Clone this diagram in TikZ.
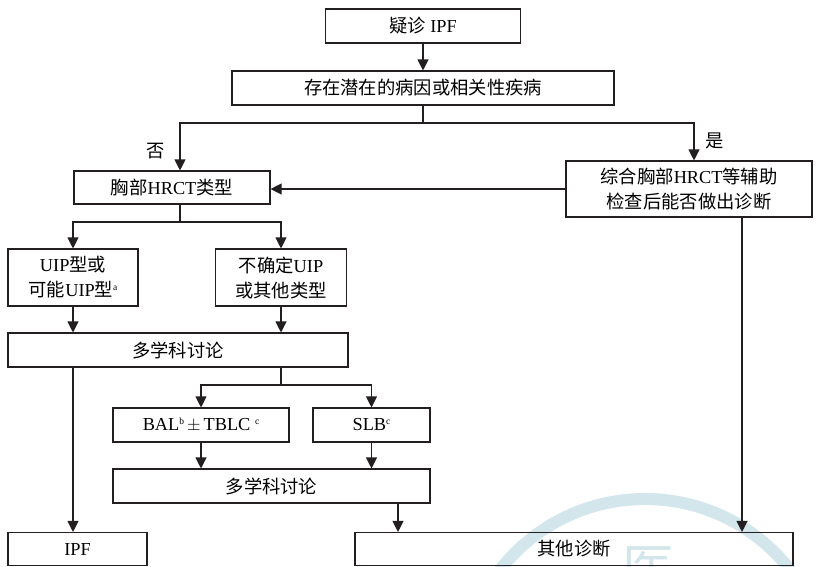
\documentclass[tikz,border=0pt]{standalone}
\usepackage{fontspec}
\setmainfont{Liberation Serif}
\newfontfamily\cjk{Noto Sans CJK SC}
\usetikzlibrary{arrows.meta}
\definecolor{ink}{HTML}{231F20}
\definecolor{wmark}{HTML}{D3E6EC}
\newcommand{\supmark}[1]{\raisebox{6pt}{\fontsize{9.5}{9.5}\selectfont #1}}
\tikzset{
  box/.style={draw=ink, line width=1.1pt, rectangle, align=center, inner sep=0pt,
              font=\fontsize{18.3}{25}\selectfont, text=black},
  arr/.style={draw=ink, line width=1.1pt, -{Triangle[length=11pt,width=11pt]}},
  ln/.style={draw=ink, line width=1.1pt},
  lbl/.style={font=\fontsize{18.3}{20}\selectfont\cjk, text=black, inner sep=0pt}
}
\begin{document}
\begin{tikzpicture}[x=1pt,y=-1pt]
\useasboundingbox (0,0) rectangle (818,566);
% watermark
\begin{scope}
  \clip (0,0) rectangle (818,566);
  \draw[wmark, line width=12pt] (645,683) circle (184);
  \node[text=wmark, font=\fontsize{52}{52}\selectfont\cjk, inner sep=0pt] (wm) at (648,568) {医};
\end{scope}
% boxes
\node[box, minimum width=195, minimum height=34] (A) at (423,26) {{\cjk 疑诊} IPF};
\node[box, minimum width=382, minimum height=34] (B) at (423,88) {\cjk 存在潜在的病因或相关性疾病};
\node[box, minimum width=196, minimum height=33] (C) at (172,187.5) {{\cjk 胸部}HRCT{\cjk 类型}};
\node[box, minimum width=246, minimum height=56] (D) at (689,189) {{\cjk 综合胸部}HRCT{\cjk 等辅助}\\{\cjk 检查后能否做出诊断}};
\node[box, minimum width=130, minimum height=57] (E) at (73,277.5) {UIP{\cjk 型或}\\{\cjk 可能}UIP{\cjk 型}\supmark{a}};
\node[box, minimum width=131, minimum height=57] (F) at (281,277.5) {{\cjk 不确定}UIP\\{\cjk 或其他类型}};
\node[box, minimum width=340, minimum height=34] (G) at (178,350) {\cjk 多学科讨论};
\node[box, minimum width=176, minimum height=34] (H) at (201,425) {BAL\supmark{b}\,$\pm$\,TBLC \supmark{c}};
\node[box, minimum width=117, minimum height=34] (I) at (371.5,425) {SLB\supmark{c}};
\node[box, minimum width=317, minimum height=34] (J) at (271.5,486) {\cjk 多学科讨论};
\node[box, minimum width=139, minimum height=33] (K) at (77.5,549) {IPF};
\node[box, minimum width=438, minimum height=33] (L) at (574,549) {\cjk 其他诊断};
% branch coordinates
\coordinate (nox) at (180,123);
\coordinate (yesx) at (694,123);
\coordinate (cx) at (180,222);
\coordinate (gx) at (281,385);
\coordinate (jx) at (398,503);
\coordinate (dx) at (742,217);
% connectors
\draw[arr] (A.south) -- (B.north);
\draw[arr] (B.south) |- (nox) -- (nox |- C.north);
\draw[arr] (B.south) |- (yesx) -- (yesx |- D.north);
\node[lbl] (no) at (156,151) {否};
\node[lbl] (yes) at (715,141) {是};
\draw[arr] (D.west) -- (D.west -| C.east);
\draw[ln] (cx |- C.south) -- (cx);
\draw[arr] (cx) -| (E.north);
\draw[arr] (cx) -| (F.north);
\draw[arr] (E.south) -- (E.south |- G.north);
\draw[arr] (F.south) -- (F.south |- G.north);
\draw[arr] (G.south -| E.south) -- (E.south |- K.north);
\draw[ln] (gx |- G.south) -- (gx);
\draw[arr] (gx) -| (H.north);
\draw[arr] (gx) -| (I.north);
\draw[arr] (H.south) -- (H.south |- J.north);
\draw[arr] (I.south) -- (I.south |- J.north);
\draw[arr] (jx) -- (jx |- L.north);
\draw[arr] (dx) -- (dx |- L.north);
\end{tikzpicture}
\end{document}
